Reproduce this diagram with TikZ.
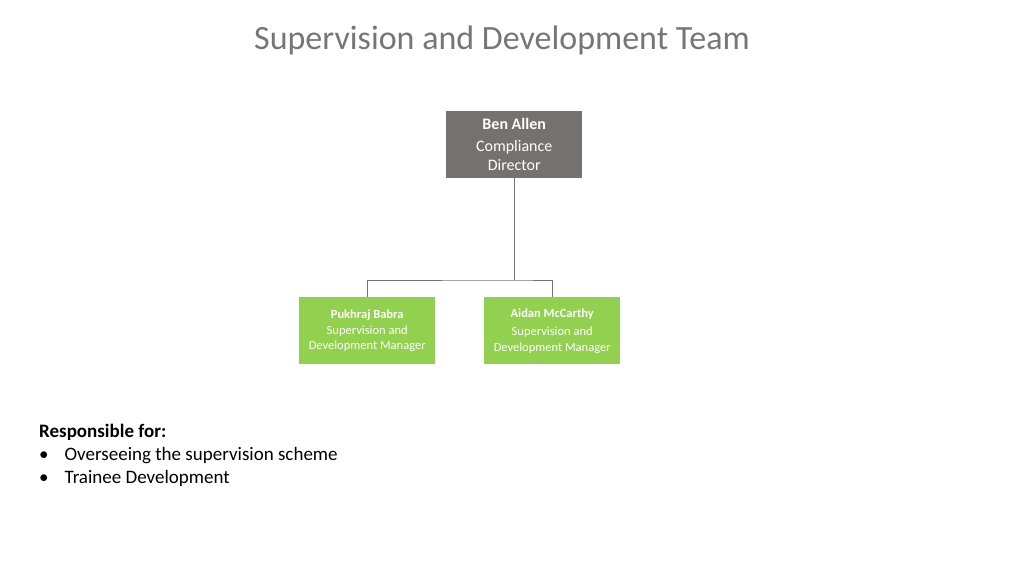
\documentclass[tikz,border=0pt]{standalone}
\usepackage{fontspec}
\setmainfont{Carlito}
\definecolor{boss}{RGB}{118,113,113}
\definecolor{grn}{RGB}{146,208,80}
\definecolor{ttl}{RGB}{118,118,118}
\tikzset{box/.style={minimum width=136pt,minimum height=67pt,inner sep=0pt,text=white,align=center,anchor=north west},
conn/.style={draw=gray!90!black,line width=0.8pt}}
\begin{document}
\begin{tikzpicture}[x=1pt,y=-1pt]
\useasboundingbox (0,0) rectangle (1024,576);
\node[text=ttl,font=\fontsize{34}{40}\selectfont] (t) at (502,40) {Supervision and Development Team};
\node[box,fill=boss,font=\fontsize{16}{19}\selectfont] (b) at (446,111) {\textbf{Ben Allen}\\[3pt]Compliance\\Director};
\node[box,fill=grn,font=\fontsize{12.5}{15.5}\selectfont] (p) at (299,297) {\textbf{Pukhraj Babra}\\Supervision and\\Development Manager};
\node[box,fill=grn,font=\fontsize{12.5}{15.5}\selectfont] (a) at (484,297) {\textbf{Aidan McCarthy}\\[3pt]Supervision and\\Development Manager};
\coordinate (j) at (b.south |- 0,280);
\draw[conn] (b.south) -- (j);
\draw[conn] (p.north) |- (j) -| (a.north);
\node[anchor=north west,align=left,font=\fontsize{19}{23}\selectfont,inner sep=0pt] (r) at (39,424) {\textbf{Responsible for:}\\ \textbullet\hspace{16pt}Overseeing the supervision scheme\\ \textbullet\hspace{16pt}Trainee Development};
\end{tikzpicture}
\end{document}
